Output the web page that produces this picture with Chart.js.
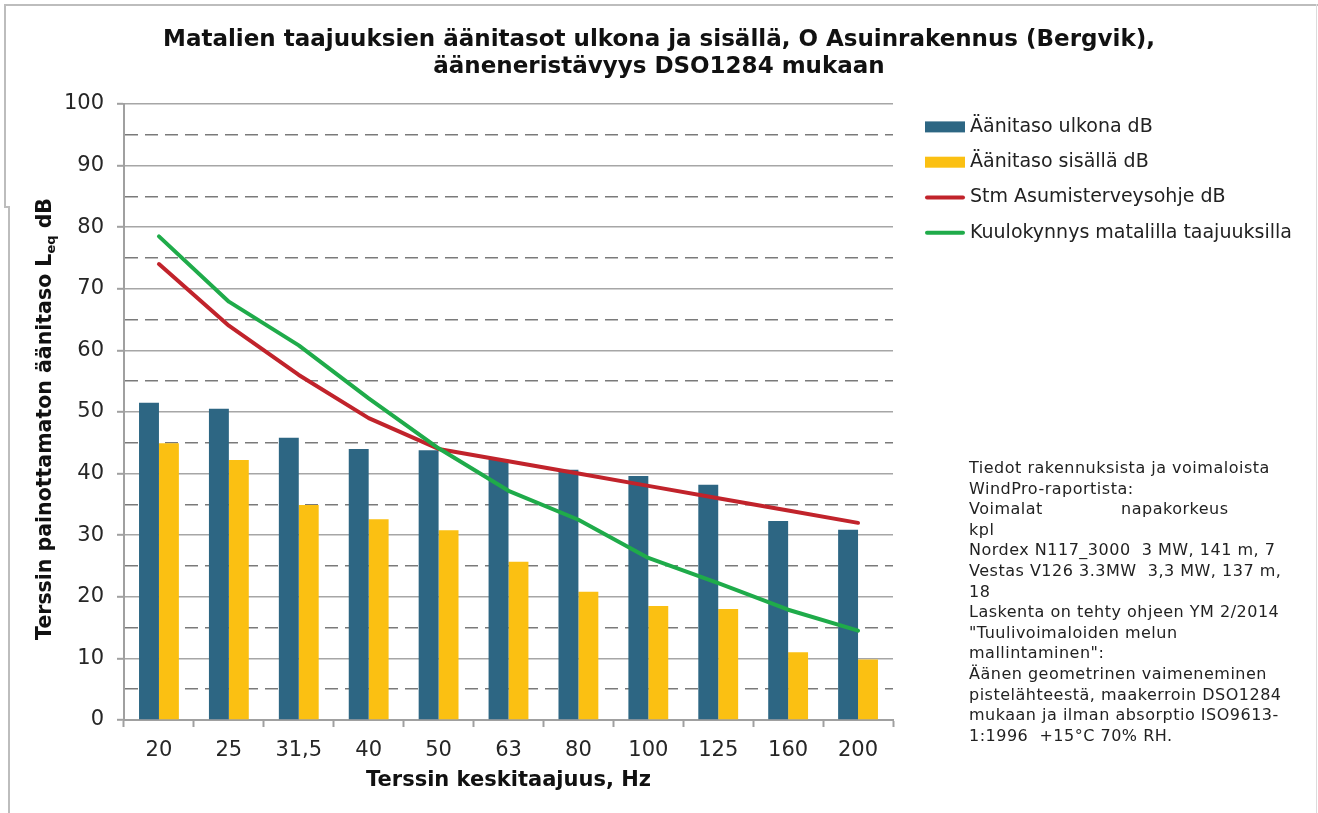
<!DOCTYPE html>
<html>
<head>
<meta charset="utf-8">
<script src="https://cdn.jsdelivr.net/npm/chart.js@4.4.1/dist/chart.umd.min.js"></script>
<style>
  html, body { margin: 0; padding: 0; background: #fff; }
  #wrap { position: relative; width: 1318px; height: 813px; overflow: hidden; }
  #chart { position: absolute; left: 0; top: 0; }
  .edge { position: absolute; background: #bdbdbd; }
  #note {
    position: absolute; left: 969px; top: 458px;
    font: 16px "DejaVu Sans", Verdana, sans-serif; letter-spacing: 0.5px;
    line-height: 20.6px; color: #222; white-space: pre;
  }
</style>
</head>
<body>
<div id="wrap">
  <canvas id="chart" width="1318" height="813"></canvas>
  <div class="edge" style="left:4px;top:4px;width:1314px;height:2px;"></div>
  <div class="edge" style="left:4px;top:4px;width:2px;height:204px;"></div>
  <div class="edge" style="left:4px;top:206px;width:6px;height:2px;"></div>
  <div class="edge" style="left:8px;top:206px;width:2px;height:607px;"></div>
  <div class="edge" style="left:1316px;top:4px;width:1px;height:809px;background:#dcdcdc;"></div>
  <div id="note"></div>
</div>
<script>
const categories = ["20", "25", "31,5", "40", "50", "63", "80", "100", "125", "160", "200"];
const outdoorLevel = [51.5, 50.5, 45.8, 44.0, 43.8, 42.3, 40.6, 39.6, 38.2, 32.3, 30.9];
const indoorLevel = [44.9, 42.2, 34.9, 32.6, 30.8, 25.7, 20.8, 18.5, 18.0, 11.0, 9.8];
const stmGuideline = [74, 64, 56, 49, 44, 42, 40, 38, 36, 34, 32];
const hearingThreshold = [78.5, 67.9, 60.8, 52.2, 44.1, 37.2, 32.5, 26.3, 22.2, 17.9, 14.5];

const titleLines = [
  "Matalien taajuuksien äänitasot ulkona ja sisällä, O Asuinrakennus (Bergvik),",
  "ääneneristävyys DSO1284 mukaan"
];
const noteLines = [
  "Tiedot rakennuksista ja voimaloista",
  "WindPro-raportista:",
  "Voimalat              napakorkeus",
  "kpl",
  "Nordex N117_3000  3 MW, 141 m, 7",
  "Vestas V126 3.3MW  3,3 MW, 137 m,",
  "18",
  "Laskenta on tehty ohjeen YM 2/2014",
  "\"Tuulivoimaloiden melun",
  "mallintaminen\":",
  "Äänen geometrinen vaimeneminen",
  "pistelähteestä, maakerroin DSO1284",
  "mukaan ja ilman absorptio ISO9613-",
  "1:1996  +15°C 70% RH."
];

document.getElementById("note").textContent = noteLines.join("\n");

const FONT = "'DejaVu Sans', Verdana, sans-serif";
const RIGHT_SPACE = 425;

// tyhjä tila oikealle selitteelle ja tekstille
const rightSpacePlugin = {
  id: "rightSpace",
  start(chart) {
    Chart.layouts.addBox(chart, {
      position: "right",
      weight: 0,
      fullSize: false,
      options: {},
      left: 0, top: 0, right: 0, bottom: 0, width: 0, height: 0,
      isHorizontal() { return false; },
      update(maxWidth, maxHeight) {
        this.width = RIGHT_SPACE;
        this.height = maxHeight;
      },
      draw() {}
    });
  }
};

// y-akselin otsikko alaindeksillä (L_eq)
const yTitlePlugin = {
  id: "yTitle",
  afterDraw(chart) {
    const ctx = chart.ctx;
    const area = chart.chartArea;
    const main = "Terssin painottamaton äänitaso L";
    const sub = "eq";
    const tail = " dB";
    ctx.save();
    ctx.fillStyle = "#111";
    ctx.textBaseline = "middle";
    ctx.font = "bold 20.5px " + FONT;
    const w1 = ctx.measureText(main).width;
    const w3 = ctx.measureText(tail).width;
    ctx.font = "bold 13px " + FONT;
    const w2 = ctx.measureText(sub).width;
    ctx.translate(46, (area.top + area.bottom) / 2 + 7);
    ctx.rotate(-Math.PI / 2);
    let x = -(w1 + w2 + w3) / 2;
    ctx.font = "bold 20.5px " + FONT;
    ctx.fillText(main, x, 0);
    x += w1;
    ctx.font = "bold 13px " + FONT;
    ctx.fillText(sub, x, 6);
    x += w2;
    ctx.font = "bold 20.5px " + FONT;
    ctx.fillText(tail, x, 0);
    ctx.restore();
  }
};

// selite oikealle, kuvaajan yläosaan
const sideLegendPlugin = {
  id: "sideLegend",
  afterDraw(chart) {
    const ctx = chart.ctx;
    const area = chart.chartArea;
    const items = Chart.defaults.plugins.legend.labels.generateLabels(chart)
      .sort((a, b) => a.datasetIndex - b.datasetIndex);
    const x = area.right + 32;
    let y = area.top + 23;
    ctx.save();
    ctx.font = "19px " + FONT;
    ctx.textBaseline = "middle";
    items.forEach((item) => {
      const ds = chart.data.datasets[item.datasetIndex];
      if (ds.type === "line") {
        ctx.strokeStyle = ds.borderColor;
        ctx.lineWidth = 4;
        ctx.lineCap = "round";
        ctx.beginPath();
        ctx.moveTo(x + 2, y);
        ctx.lineTo(x + 38, y);
        ctx.stroke();
      } else {
        ctx.fillStyle = ds.backgroundColor;
        ctx.fillRect(x, y - 5.5, 40, 11);
      }
      ctx.fillStyle = "#222";
      ctx.fillText(item.text, x + 45, y);
      y += 35.3;
    });
    ctx.restore();
  }
};

new Chart(document.getElementById("chart"), {
  data: {
    labels: categories,
    datasets: [
      {
        type: "bar",
        label: "Äänitaso ulkona dB",
        data: outdoorLevel,
        backgroundColor: "#2d6683",
        borderWidth: 0,
        order: 2
      },
      {
        type: "bar",
        label: "Äänitaso sisällä dB",
        data: indoorLevel,
        backgroundColor: "#fbc012",
        borderWidth: 0,
        order: 2
      },
      {
        type: "line",
        label: "Stm Asumisterveysohje dB",
        data: stmGuideline,
        borderColor: "#c1232b",
        borderWidth: 4,
        borderCapStyle: "round",
        borderJoinStyle: "round",
        pointRadius: 0,
        tension: 0,
        order: 1
      },
      {
        type: "line",
        label: "Kuulokynnys matalilla taajuuksilla",
        data: hearingThreshold,
        borderColor: "#1fab4a",
        borderWidth: 4,
        borderCapStyle: "round",
        borderJoinStyle: "round",
        pointRadius: 0,
        tension: 0,
        order: 0
      }
    ]
  },
  options: {
    responsive: false,
    animation: false,
    layout: {padding: 0},
    datasets: {
      bar: {categoryPercentage: 0.57, barPercentage: 1.0}
    },
    plugins: {
      legend: {display: false},
      tooltip: {enabled: false},
      title: {
        display: true,
        text: titleLines,
        color: "#111",
        font: {family: FONT, size: 23, weight: "bold", lineHeight: 1.15},
        padding: {top: 27, bottom: 24}
      }
    },
    scales: {
      x: {
        offset: true,
        grid: {
          offset: true,
          drawOnChartArea: false,
          tickLength: 7,
          tickColor: "#a0a0a0",
          tickWidth: 2
        },
        border: {color: "#a0a0a0", width: 2},
        ticks: {
          color: "#262626",
          padding: 11,
          font: {family: FONT, size: 21}
        },
        title: {
          display: true,
          text: "Terssin keskitaajuus, Hz",
          color: "#111",
          font: {family: FONT, size: 21, weight: "bold"},
          padding: {top: 0, bottom: 20}
        },
        afterFit(scale) { scale.height = 93; }
      },
      y: {
        min: 0,
        max: 100,
        ticks: {
          stepSize: 5,
          color: "#262626",
          padding: 13,
          font: {family: FONT, size: 21},
          callback: (v) => (v % 10 === 0 ? v : "")
        },
        grid: {
          color: (ctx) => (ctx.tick && ctx.tick.value % 10 !== 0 ? "#7a7a7a" : "#a6a6a6"),
          lineWidth: 1.6,
          tickLength: 7,
          tickWidth: 2,
          tickColor: (ctx) => (ctx.tick && ctx.tick.value % 10 !== 0 ? "rgba(0,0,0,0)" : "#a0a0a0")
        },
        border: {
          color: "#a0a0a0",
          width: 2,
          dash: (ctx) => (ctx.tick && ctx.tick.value % 10 !== 0 ? [13, 7] : [])
        },
        afterFit(scale) { scale.width = 124; }
      }
    }
  },
  plugins: [rightSpacePlugin, yTitlePlugin, sideLegendPlugin]
});
</script>
</body>
</html>
